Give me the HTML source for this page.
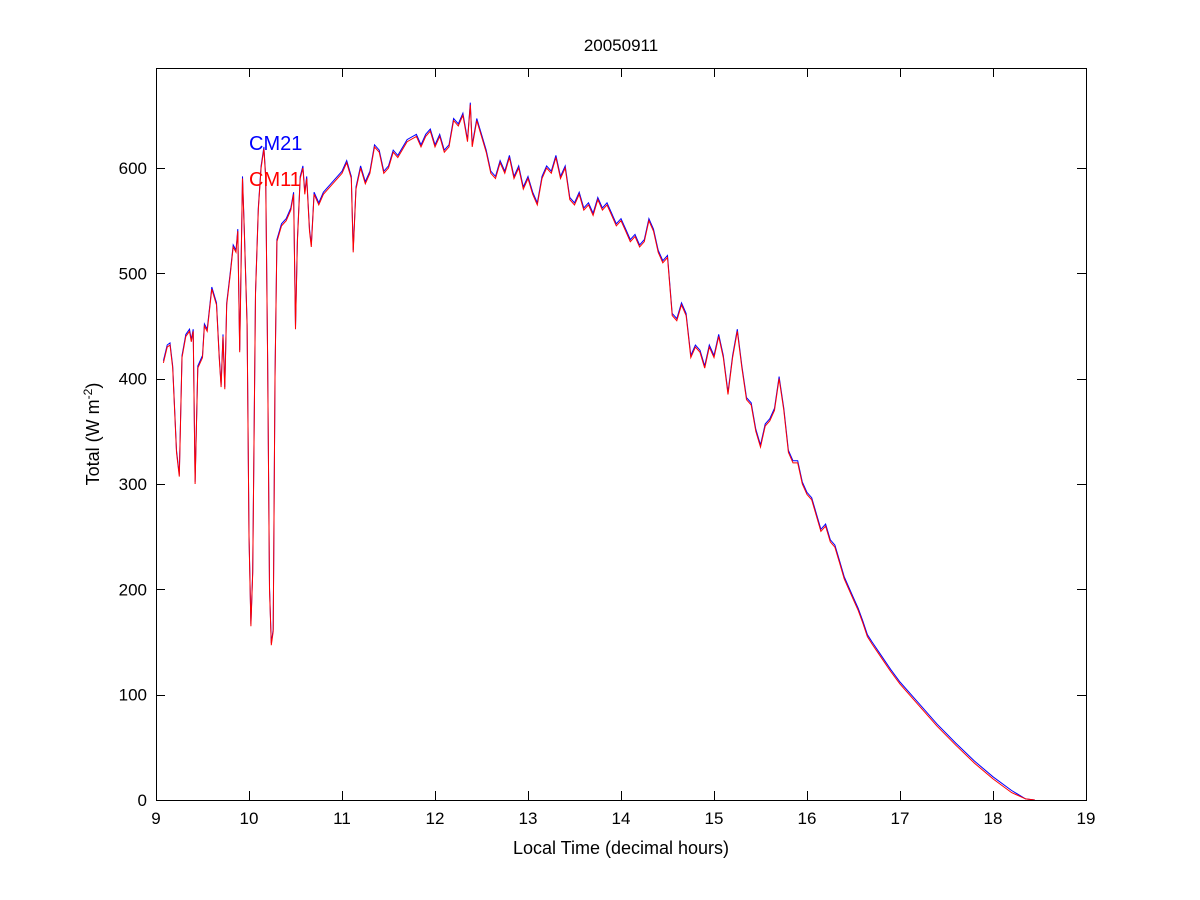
<!DOCTYPE html>
<html><head><meta charset="utf-8"><style>
html,body{margin:0;padding:0;background:#fff;}
svg{display:block;font-family:"Liberation Sans",Arial,sans-serif;}
</style></head><body>
<svg id="s" width="1200" height="900" viewBox="0 0 1200 900" xmlns="http://www.w3.org/2000/svg">
<rect width="1200" height="900" fill="#fff"/>
<g id="ticks" stroke="#000" stroke-width="1"></g>
<polyline id="blue" fill="none" stroke="#0000ff" stroke-width="1"/>
<polyline id="red" fill="none" stroke="#ff0000" stroke-width="1"/>
<rect x="156.5" y="68.5" width="930" height="732" fill="none" stroke="#000" stroke-width="1"/>
<g id="labels" font-size="17" fill="#000"></g>
<text x="621" y="51" font-size="17" text-anchor="middle">20050911</text>
<text x="621" y="854" font-size="18" text-anchor="middle">Local Time (decimal hours)</text>
<text transform="translate(99,434) rotate(-90)" font-size="18" text-anchor="middle">Total (W m<tspan dy="-7" font-size="12">-2</tspan><tspan dy="7">)</tspan></text>
<text x="249" y="150" font-size="20" fill="#0000ff">CM21</text>
<text x="249" y="186" font-size="20" fill="#ff0000">CM11</text>
</svg>
<script>
var X=function(t){return 156+(t-9)*93;};
var Y=function(v){return 800-v*1.05333;};
var ns="http://www.w3.org/2000/svg";
var tg=document.getElementById('ticks'),lg=document.getElementById('labels');
function line(x1,y1,x2,y2){var l=document.createElementNS(ns,'line');l.setAttribute('x1',x1);l.setAttribute('y1',y1);l.setAttribute('x2',x2);l.setAttribute('y2',y2);tg.appendChild(l);}
function txt(x,y,s,a){var t=document.createElementNS(ns,'text');t.setAttribute('x',x);t.setAttribute('y',y);t.setAttribute('text-anchor',a);t.textContent=s;lg.appendChild(t);}
for(var h=9;h<=19;h++){var x=Math.round(X(h))+0.5;line(x,800,x,791);line(x,68,x,77);txt(X(h),824,h,'middle');}
for(var v=0;v<=600;v+=100){var y=Math.round(Y(v))+0.5;line(156,y,165,y);line(1086,y,1077,y);txt(147,Y(v)+6,v,'end');}
var d=[9.08,415,9.12,430,9.15,432,9.18,410,9.22,330,9.25,307,9.28,420,9.32,440,9.36,445,9.38,435,9.40,445,9.42,300,9.45,410,9.5,420,9.52,450,9.55,445,9.6,485,9.65,470,9.68,420,9.7,392,9.72,440,9.74,390,9.76,470,9.8,500,9.83,525,9.86,520,9.88,540,9.9,425,9.93,590,9.95,540,9.98,450,10.0,250,10.02,165,10.04,215,10.07,480,10.1,560,10.13,600,10.16,618,10.18,590,10.2,420,10.22,200,10.24,147,10.26,160,10.28,400,10.3,530,10.35,545,10.4,550,10.45,560,10.48,575,10.5,447,10.52,530,10.55,590,10.58,600,10.6,575,10.62,590,10.65,540,10.67,525,10.7,575,10.75,565,10.8,575,10.9,585,11.0,595,11.05,605,11.1,590,11.12,520,11.15,580,11.2,600,11.25,585,11.3,595,11.35,620,11.4,615,11.45,595,11.5,600,11.55,615,11.6,610,11.7,625,11.8,630,11.85,620,11.9,630,11.95,635,12.0,620,12.05,630,12.1,615,12.15,620,12.2,645,12.25,640,12.3,650,12.35,625,12.38,660,12.4,620,12.45,645,12.5,630,12.55,615,12.6,595,12.65,590,12.7,605,12.75,595,12.8,610,12.85,590,12.9,600,12.95,580,13.0,590,13.05,575,13.1,565,13.15,590,13.2,600,13.25,595,13.3,610,13.35,590,13.4,600,13.45,570,13.5,565,13.55,575,13.6,560,13.65,565,13.7,555,13.75,570,13.8,560,13.85,565,13.9,555,13.95,545,14.0,550,14.05,540,14.1,530,14.15,535,14.2,525,14.25,530,14.3,550,14.35,540,14.4,520,14.45,510,14.5,515,14.55,460,14.6,455,14.65,470,14.7,460,14.75,420,14.8,430,14.85,425,14.9,410,14.95,430,15.0,420,15.05,440,15.1,420,15.15,385,15.2,420,15.25,445,15.3,410,15.35,380,15.4,375,15.45,350,15.5,335,15.55,355,15.6,360,15.65,370,15.7,400,15.75,370,15.8,330,15.85,320,15.9,320,15.95,300,16.0,290,16.05,285,16.1,270,16.15,255,16.2,260,16.25,245,16.3,240,16.35,225,16.4,210,16.45,200,16.5,190,16.55,180,16.6,168,16.65,155,16.7,148,16.8,135,16.9,122,17.0,110,17.2,90,17.4,70,17.6,52,17.8,35,18.0,20,18.2,7,18.35,1,18.45,0];
var r=[],b=[];
for(var i=0;i<d.length;i+=2){var x=X(d[i]).toFixed(1);r.push(x+','+Y(d[i+1]).toFixed(1));b.push(x+','+Y(d[i+1]+(d[i+1]>5?2:0)).toFixed(1));}
document.getElementById('red').setAttribute('points',r.join(' '));
document.getElementById('blue').setAttribute('points',b.join(' '));
</script>
</body></html>
